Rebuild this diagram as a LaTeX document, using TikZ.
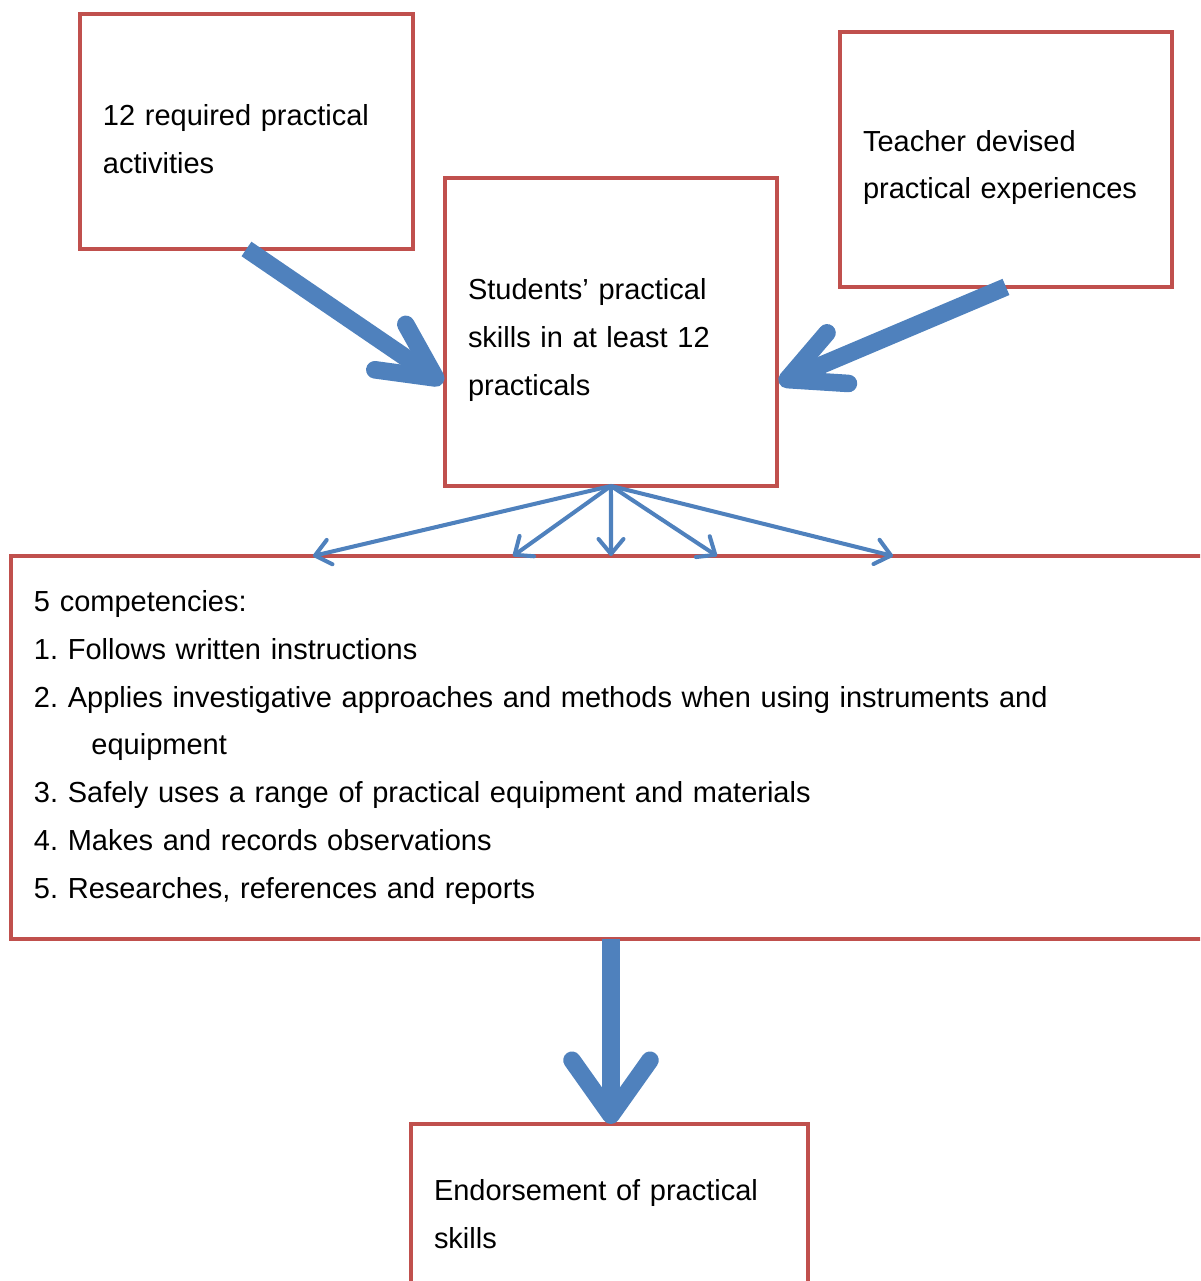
\documentclass[tikz,border=0pt]{standalone}
\usepackage{fontspec}
\setmainfont{Liberation Sans}
\usetikzlibrary{arrows.meta}
\definecolor{boxred}{HTML}{C0504D}
\definecolor{arrowblue}{HTML}{4F81BD}

\begin{document}
\begin{tikzpicture}[x=0.02cm,y=-0.02cm,
  box/.style={draw=boxred,line width=2.3pt,anchor=north west,outer sep=0pt,align=left,inner xsep=0.46cm,
    font=\fontsize{16.5}{27.2}\selectfont\frenchspacing},
  lowtext/.style={execute at begin node=\rule{0pt}{0.74cm}},
  bigarrow/.style={draw=arrowblue,line width=10pt,-{Straight Barb[round,length=1.1cm,width=1.1cm]}},
  thinarrow/.style={draw=arrowblue,line width=2.3pt,-{Straight Barb[round,length=0.3cm,width=0.5cm]}}]
  \useasboundingbox (0,0) rectangle (1200,1281);
  \clip (0,0) rectangle (1200,1281);
  % the three sources
  \node[box,lowtext,minimum width=6.66cm,minimum height=4.7cm,text width=5.74cm] (required) at (80,14)
    {12 required practical\\activities};
  \node[box,lowtext,minimum width=6.64cm,minimum height=5.1cm,text width=5.72cm] (devised) at (840,32)
    {Teacher devised\\practical experiences};
  \node[box,lowtext,minimum width=6.64cm,minimum height=6.16cm,text width=5.72cm] (skills) at (445,178)
    {Students’ practical\\skills in at least 12\\practicals};
  % competencies
  \node[box,minimum width=24.6cm,minimum height=7.66cm,text width=23.68cm] (comp) at (11,556)
    {5 competencies:\\
     1. Follows written instructions\\
     2. Applies investigative approaches and methods when using instruments and\\
     \hspace*{1.15cm}equipment\\
     3. Safely uses a range of practical equipment and materials\\
     4. Makes and records observations\\
     5. Researches, references and reports};
  \node[box,minimum width=7.94cm,minimum height=3.6cm,text width=7.02cm] (endorse) at (411,1124)
    {Endorsement of practical\\skills};
  \coordinate (inA) at (443,383);
  \coordinate (inC) at (779,383);
  \coordinate (c1) at (313,556);
  \coordinate (c2) at (513,556);
  \coordinate (c3) at (611,556);
  \coordinate (c4) at (717,556);
  \coordinate (c5) at (893,556);
  \draw[bigarrow] (required.south) -- (inA);
  \draw[bigarrow] (devised.south) -- (inC);
  \draw[thinarrow] (skills.south) -- (c1);
  \draw[thinarrow] (skills.south) -- (c2);
  \draw[thinarrow] (skills.south) -- (c3);
  \draw[thinarrow] (skills.south) -- (c4);
  \draw[thinarrow] (skills.south) -- (c5);
  \draw[bigarrow,-{Straight Barb[round,length=1.1cm,width=1.56cm]}]
    (skills.south |- comp.south) -- (skills.south |- endorse.north);
\end{tikzpicture}
\end{document}
